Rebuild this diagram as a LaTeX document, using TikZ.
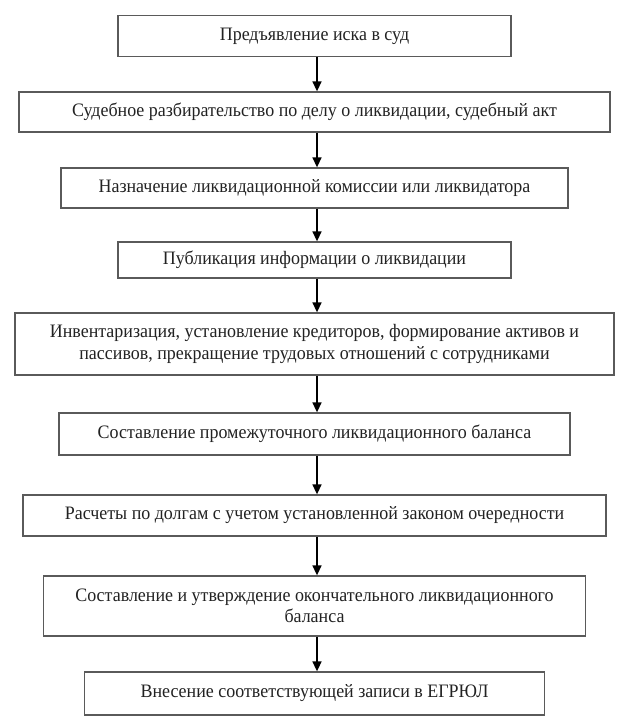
\documentclass[tikz,border=0pt]{standalone}
\usepackage{fontspec}
\setmainfont{Liberation Serif}[FakeStretch=0.945]
\usetikzlibrary{arrows.meta}
\definecolor{boxgray}{HTML}{5A5A5A}
\definecolor{txt}{HTML}{222222}
\begin{document}
\begin{tikzpicture}[x=1pt,y=-1pt,
  stepbox/.style={draw=boxgray, line width=1.3pt, inner sep=0pt, text=txt,
    font=\fontsize{19}{21.5}\selectfont, align=center},
  flow/.style={-{Triangle[length=10pt,width=9pt]}, line width=1.5pt, draw=black}]
\useasboundingbox (0,0) rectangle (624,722);
\node[stepbox, minimum width=393pt, minimum height=40.5pt] (b1) at (314.5,36) {Предъявление иска в суд};
\node[stepbox, minimum width=591pt, minimum height=40pt] (b2) at (314.5,112) {Судебное разбирательство по делу о ликвидации, судебный акт};
\node[stepbox, minimum width=507pt, minimum height=40pt] (b3) at (314.5,188) {Назначение ликвидационной комиссии или ликвидатора};
\node[stepbox, minimum width=393pt, minimum height=36pt] (b4) at (314.5,260) {Публикация информации о ликвидации};
\node[stepbox, minimum width=599pt, minimum height=62pt] (b5) at (314.5,344) {Инвентаризация, установление кредиторов, формирование активов и\\пассивов, прекращение трудовых отношений с сотрудниками};
\node[stepbox, minimum width=511pt, minimum height=42pt] (b6) at (314.5,434) {Составление промежуточного ликвидационного баланса};
\node[stepbox, minimum width=583pt, minimum height=41pt] (b7) at (314.5,515.5) {Расчеты по долгам с учетом установленной законом очередности};
\node[stepbox, minimum width=542pt, minimum height=60pt] (b8) at (314.5,606) {Составление и утверждение окончательного ликвидационного\\баланса};
\node[stepbox, minimum width=460pt, minimum height=43pt] (b9) at (314.5,693.5) {Внесение соответствующей записи в ЕГРЮЛ};
\foreach \a/\b in {b1/b2,b2/b3,b3/b4,b4/b5,b5/b6,b6/b7,b7/b8,b8/b9}
  \draw[flow] ([xshift=2.5pt]\a.south) -- ([xshift=2.5pt]\b.north);
\end{tikzpicture}
\end{document}
